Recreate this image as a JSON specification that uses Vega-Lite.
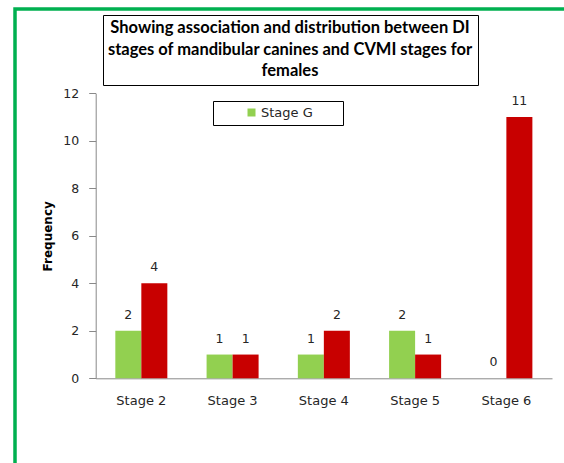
{
  "$schema": "https://vega.github.io/schema/vega-lite/v6.json",
  "width": 555,
  "height": 460,
  "autosize": {"type": "none"},
  "padding": {"left": 15, "top": 9, "right": -6, "bottom": -6},
  "background": "white",
  "view": {"stroke": "#00B050", "strokeWidth": 3.5},
  "data": {
    "values": [
      {"category": "Stage 2", "stage": "Stage G", "frequency": 2},
      {"category": "Stage 2", "stage": "Stage H", "frequency": 4},
      {"category": "Stage 3", "stage": "Stage G", "frequency": 1},
      {"category": "Stage 3", "stage": "Stage H", "frequency": 1},
      {"category": "Stage 4", "stage": "Stage G", "frequency": 1},
      {"category": "Stage 4", "stage": "Stage H", "frequency": 2},
      {"category": "Stage 5", "stage": "Stage G", "frequency": 2},
      {"category": "Stage 5", "stage": "Stage H", "frequency": 1},
      {"category": "Stage 6", "stage": "Stage G", "frequency": 0},
      {"category": "Stage 6", "stage": "Stage H", "frequency": 11}
    ]
  },
  "encoding": {
    "x": {
      "field": "category",
      "type": "nominal",
      "sort": null,
      "scale": {"range": [80.7, 537], "paddingInner": 0.43, "paddingOuter": 0.215},
      "axis": {
        "title": null,
        "orient": "bottom",
        "offset": -90.7,
        "labelAngle": 0,
        "ticks": false,
        "tickSize": 0,
        "labelPadding": 16,
        "labelFont": "DejaVu Sans",
        "labelFontSize": 13,
        "labelColor": "#262626",
        "domainColor": "#898989",
        "domainWidth": 1
      }
    },
    "xOffset": {
      "field": "stage",
      "type": "nominal",
      "sort": ["Stage G", "Stage H"],
      "scale": {"paddingInner": 0, "paddingOuter": 0}
    },
    "y": {
      "field": "frequency",
      "type": "quantitative",
      "scale": {"domain": [0, 12], "range": [369.3, 84.3], "nice": false, "zero": true},
      "axis": {
        "title": "Frequency",
        "titleFont": "DejaVu Sans",
        "titleFontSize": 12,
        "titleFontWeight": "bold",
        "titleColor": "#000000",
        "titlePadding": 8,
        "offset": -80.7,
        "values": [0, 2, 4, 6, 8, 10, 12],
        "grid": false,
        "domainColor": "#898989",
        "tickColor": "#898989",
        "tickSize": 7,
        "labelFont": "DejaVu Sans",
        "labelFontSize": 12.5,
        "labelColor": "#262626",
        "labelPadding": 10
      }
    }
  },
  "layer": [
    {
      "mark": {"type": "bar"},
      "encoding": {
        "color": {
          "field": "stage",
          "type": "nominal",
          "scale": {"domain": ["Stage G", "Stage H"], "range": ["#92D050", "#C80000"]},
          "legend": {
            "orient": "none",
            "legendX": 198,
            "legendY": 92,
            "values": ["Stage G"],
            "title": "\u00a0",
            "titleOrient": "right",
            "titlePadding": 25,
            "padding": 5,
            "strokeColor": "#000000",
            "symbolType": "square",
            "symbolSize": 64,
            "symbolOffset": 27,
            "symbolStrokeWidth": 0,
            "labelOffset": 3,
            "labelFont": "DejaVu Sans",
            "labelFontSize": 13,
            "labelColor": "#262626"
          }
        }
      }
    },
    {
      "mark": {"type": "text", "baseline": "alphabetic", "dy": -12, "font": "DejaVu Sans", "fontSize": 12.5, "color": "#262626"},
      "encoding": {
        "text": {"field": "frequency", "type": "quantitative"},
        "opacity": {
          "field": "category",
          "type": "ordinal",
          "scale": {"range": [1, 1]},
          "legend": {
            "orient": "none",
            "legendX": 88,
            "legendY": 6,
            "values": ["Stage 2"],
            "title": ["Showing association and distribution between DI", "stages of mandibular canines and CVMI stages for", "females"],
            "titleFont": "Lato",
            "titleFontSize": 16.5,
            "titleFontWeight": "bold",
            "titleColor": "#000000",
            "titleAlign": "center",
            "titleAnchor": "middle",
            "titleLineHeight": 21.5,
            "titlePadding": 0,
            "titleLimit": 1000,
            "padding": 5,
            "strokeColor": "#000000",
            "symbolSize": 0,
            "symbolOpacity": 0,
            "symbolStrokeWidth": 0,
            "labelOpacity": 0,
            "labelFontSize": 1
          }
        }
      }
    }
  ]
}
